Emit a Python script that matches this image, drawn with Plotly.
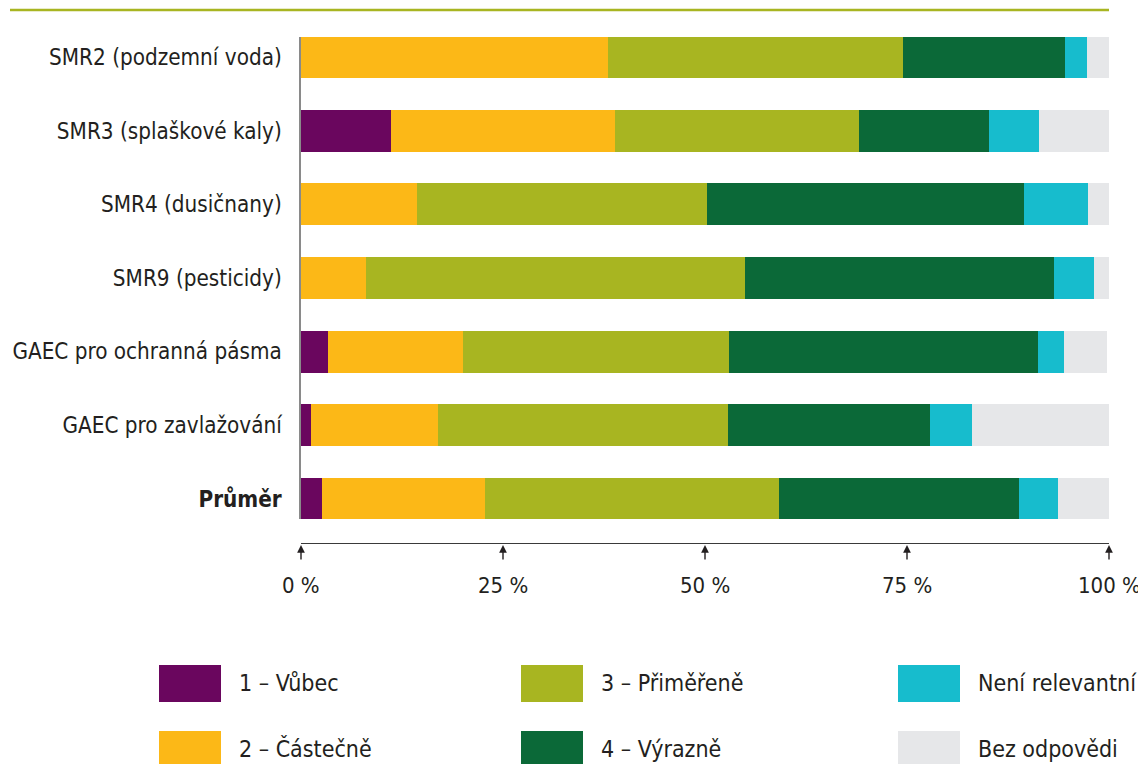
import plotly.graph_objects as go

categories = [
    "SMR2 (podzemní voda)",
    "SMR3 (splaškové kaly)",
    "SMR4 (dusičnany)",
    "SMR9 (pesticidy)",
    "GAEC pro ochranná pásma",
    "GAEC pro zavlažování",
    "Průměr",
]
tick_text = categories[:-1] + ["<b>Průměr</b>"]

series_names = ["1 – Vůbec", "2 – Částečně", "3 – Přiměřeně", "4 – Výrazně",
                "Není relevantní", "Bez odpovědi"]
vubec      = [0.0, 11.1, 0.0, 0.0, 3.3, 1.2, 2.6]
castecne   = [38.0, 27.8, 14.4, 8.0, 16.8, 15.7, 20.2]
primerene  = [36.5, 30.2, 35.9, 47.0, 32.9, 36.0, 36.4]
vyrazne    = [20.1, 16.1, 39.2, 38.2, 38.2, 25.0, 29.7]
nerelevant = [2.7, 6.1, 7.9, 5.0, 3.2, 5.1, 4.8]
bez        = [2.8, 8.7, 2.6, 1.9, 5.4, 17.0, 6.3]
series_values = [vubec, castecne, primerene, vyrazne, nerelevant, bez]
colors = ["#6A065E", "#FCB817", "#A8B521", "#0B6938", "#17BCCD", "#E6E7E9"]

x_ticks = [0, 25, 50, 75, 100]
x_tick_labels = ["0 %", "25 %", "50 %", "75 %", "100 %"]

FONT = "Liberation Sans Narrow, DejaVu Sans Condensed, Arial Narrow, Roboto, sans-serif"
TXT = "#231F20"
FS = 23

fig = go.Figure()
for name, vals, col in zip(series_names, series_values, colors):
    fig.add_trace(go.Bar(
        y=categories, x=vals, name=name, orientation="h",
        marker=dict(color=col, line=dict(width=0)),
        showlegend=False,
    ))

# page has an 8px body margin: figure is 1138x756 drawn from (8, 8)
fig.update_layout(
    barmode="stack",
    bargap=0.427,
    width=1138, height=756,
    margin=dict(l=293, r=37, t=29, b=221, pad=0, autoexpand=False),
    paper_bgcolor="white", plot_bgcolor="white",
    font=dict(family=FONT, size=FS, color=TXT),
    xaxis=dict(range=[0, 100], showgrid=False, zeroline=False,
               showticklabels=False, ticks="", automargin=False,
               showline=True, linecolor="#3a3a3a", linewidth=1.3,
               anchor="free", position=0),
    yaxis=dict(type="category", categoryorder="array", categoryarray=categories,
               range=[6.273, -0.273], domain=[0.0474, 1], automargin=False,
               tickvals=categories, ticktext=tick_text,
               showgrid=False, zeroline=False, ticks="",
               ticklabelstandoff=13,
               showline=True, linecolor="#8a8a8a", linewidth=1.5,
               tickfont=dict(family=FONT, size=22.3, color=TXT)),
)

# tick arrows and labels on the x axis
for v, lab in zip(x_ticks, x_tick_labels):
    fig.add_annotation(x=v, y=0, xref="x", yref="paper", text="",
                       showarrow=True, ax=0, ay=18, axref="pixel", ayref="pixel",
                       arrowhead=2, arrowsize=1.1, arrowwidth=1.4, arrowcolor=TXT,
                       standoff=2)
    fig.add_annotation(x=v, y=0, xref="x", yref="paper", text=lab,
                       showarrow=False, yanchor="middle", yshift=-42,
                       font=dict(family=FONT, size=22, color=TXT))

# positions below are in page pixels; converted relative to the plot area
plot_left, plot_bottom, paper_h, paper_w = 301, 543, 506, 808

# top decorative line
top_y = (plot_bottom - 10) / paper_h
fig.add_shape(type="line", xref="paper", yref="paper",
              x0=(10 - plot_left) / paper_w, x1=1.0, y0=top_y, y1=top_y,
              line=dict(color="#A8B521", width=2.5))

# custom legend with big swatches
legend_cols = [159, 521, 898]
legend_rows = [665, 731]
sw_w, sw_h = 62, 37
for i, (name, col) in enumerate(zip(series_names, colors)):
    cx = legend_cols[i // 2]
    ry = legend_rows[i % 2]
    x0 = (cx - plot_left) / paper_w
    x1 = (cx + sw_w - plot_left) / paper_w
    y0 = (plot_bottom - ry) / paper_h
    y1 = (plot_bottom - ry - sw_h) / paper_h
    fig.add_shape(type="rect", xref="paper", yref="paper",
                  x0=x0, x1=x1, y0=y1, y1=y0,
                  fillcolor=col, line=dict(width=0))
    fig.add_annotation(xref="paper", yref="paper",
                       x=(cx + sw_w + 16 - plot_left) / paper_w,
                       y=(plot_bottom - ry - sw_h / 2 + 1) / paper_h,
                       text=name, showarrow=False, xanchor="left", yanchor="middle",
                       font=dict(family=FONT, size=FS, color=TXT))

fig.write_html("out.html")
